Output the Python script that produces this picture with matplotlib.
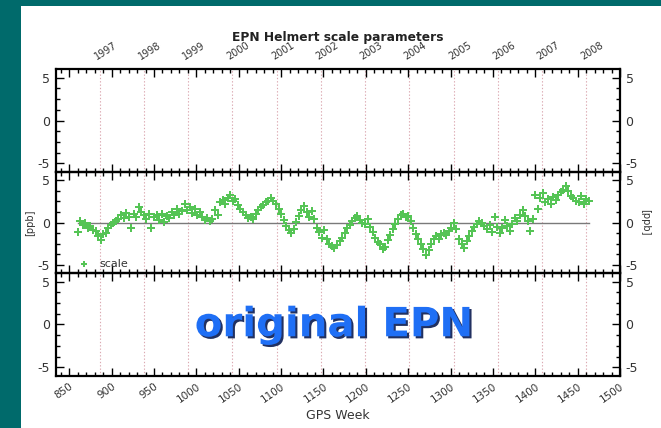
import matplotlib

matplotlib.use("Agg")
import matplotlib.pyplot as plt
import matplotlib.patheffects as pe
from matplotlib.patches import Rectangle
from matplotlib.ticker import MultipleLocator

# ---- data ----
year_labels = ["1997", "1998", "1999", "2000", "2001", "2002", "2003",
               "2004", "2005", "2006", "2007", "2008"]
year_weeks = [886, 938, 990, 1042, 1095, 1147, 1199, 1251, 1304, 1356, 1408, 1460]

weeks = [
    860, 863, 866, 869, 872, 875, 878, 881, 884, 887, 890, 893, 896, 899,
    902, 905, 908, 911, 914, 917, 920, 923, 926, 929, 932, 935, 938, 941,
    944, 947, 950, 953, 956, 959, 962, 965, 968, 971, 974, 977, 980, 983,
    986, 989, 992, 995, 998, 1001, 1004, 1007, 1010, 1013, 1016, 1019, 1022,
    1025, 1028, 1031, 1034, 1037, 1040, 1043, 1046, 1049, 1052, 1055, 1058,
    1061, 1064, 1067, 1070, 1073, 1076, 1079, 1082, 1085, 1088, 1091, 1094,
    1097, 1100, 1103, 1106, 1109, 1112, 1115, 1118, 1121, 1124, 1127, 1130,
    1133, 1136, 1139, 1142, 1145, 1148, 1151, 1154, 1157, 1160, 1163, 1166,
    1169, 1172, 1175, 1178, 1181, 1184, 1187, 1190, 1193, 1196, 1199, 1202,
    1205, 1208, 1211, 1214, 1217, 1220, 1223, 1226, 1229, 1232, 1235, 1238,
    1241, 1244, 1247, 1250, 1253, 1256, 1259, 1262, 1265, 1268, 1271, 1274,
    1277, 1280, 1283, 1286, 1289, 1292, 1295, 1298, 1301, 1304, 1307, 1310,
    1313, 1316, 1319, 1322, 1325, 1328, 1331, 1334, 1337, 1340, 1343, 1346,
    1349, 1352, 1355, 1358, 1361, 1364, 1367, 1370, 1373, 1376, 1379, 1382,
    1385, 1388, 1391, 1394, 1397, 1400, 1403, 1406, 1409, 1412, 1415, 1418,
    1421, 1424, 1427, 1430, 1433, 1436, 1439, 1442, 1445, 1448, 1451, 1454,
    1457, 1460, 1463,
]
scale = [
    -1.1, 0.2, -0.3, 0.0, -0.6, -0.4, -0.9, -1.0, -1.6, -2.1, -1.4, -1.2, -0.6, -0.3,
    -0.1, 0.2, 0.4, 0.9, 0.5, 1.1, 0.7, -0.6, 1.0, 0.6, 1.9, 1.3, 0.9, 0.4,
    1.0, -0.7, 0.6, 0.9, 0.3, 1.0, 0.1, 0.8, 0.5, 1.2, 0.9, 1.6, 1.0, 1.4,
    2.2, 1.5, 1.8, 1.1, 1.6, 0.9, 1.3, 0.7, 0.3, 0.5, 0.2, 0.4, 1.5,
    0.9, 2.4, 2.7, 2.2, 2.9, 3.3, 2.6, 2.8, 2.1, 1.6, 1.2, 0.9,
    0.5, 0.7, 0.4, 1.0, 1.5, 1.9, 2.1, 2.4, 2.6, 2.9, 2.5, 2.2,
    1.6, 1.0, 0.3, -0.4, -0.9, -1.3, -0.8, 0.1, 0.8, 1.5, 2.0, 1.2,
    0.7, 1.4, 0.4, -0.7, -1.1, -1.8, -0.9, -2.0, -2.5, -2.8, -3.0, -2.7,
    -2.2, -1.8, -1.3, -0.7, -0.3, 0.2, 0.5, 0.8, 0.3, 0.0, -0.2, 0.4,
    -0.5, -1.1, -1.8, -2.3, -2.6, -3.2, -2.9, -2.1, -1.5, -0.8, -0.2, 0.4,
    0.9, 1.0, 0.6, 0.8, 0.2, -0.7, -1.4, -2.0, -2.6, -3.1, -3.8, -3.3,
    -2.5, -2.0, -1.6, -1.9, -1.4, -1.2, -1.5, -1.0, -0.6, 0.0, -0.8, -2.0,
    -2.6, -3.0, -2.2, -1.6, -1.0, -0.5, -0.2, 0.2, 0.0, -0.4, -0.8, -0.3,
    -1.1, 0.6, -0.5, -1.2, -0.7, 0.3, -0.4, -1.0, -0.2, 0.5, 0.2, 0.9,
    1.5, 0.8, 0.2, -1.0, 0.4, 3.3, 1.6, 2.9, 3.5, 2.4, 2.8, 2.2,
    3.0, 2.7, 3.3, 3.6, 3.9, 4.3, 3.7, 3.2, 2.9, 2.6, 2.4, 3.1,
    2.2, 2.8, 2.5,
]

TEAL = "#006a6b"
GREEN = "#55c455"
TICK_COL = "#333333"

fig = plt.figure(figsize=(6.61, 4.28), dpi=100, facecolor=TEAL)
fig.patches.append(Rectangle((21 / 661, 0), 1 - 21 / 661, 1 - 6 / 428,
                             transform=fig.transFigure, facecolor="white",
                             edgecolor="none", zorder=-10))

left, width = 0.0843, 0.8537
rows = [(0.5981, 0.2407), (0.3621, 0.2360), (0.1215, 0.2407)]
axes = []
for i, (b, h) in enumerate(rows):
    ax = fig.add_axes([left, b, width, h])
    ax.set_xlim(834, 1500)
    ax.set_ylim(-6, 6)
    ax.set_facecolor("none")
    for s in ax.spines.values():
        s.set_linewidth(1.6)
    ax.xaxis.set_major_locator(MultipleLocator(50))
    ax.xaxis.set_minor_locator(MultipleLocator(10))
    ax.yaxis.set_major_locator(MultipleLocator(5))
    ax.yaxis.set_minor_locator(MultipleLocator(1.25))
    ax.tick_params(which="both", direction="in", top=True, bottom=True,
                   left=True, right=True, labelright=True, labelleft=True,
                   labelsize=9, labelcolor=TICK_COL, width=1.0, pad=4)
    ax.tick_params(which="major", length=6)
    ax.tick_params(which="minor", length=3)
    ax.set_yticks([-5, 0, 5])
    ax.set_yticklabels(["-5", "0", "5"])
    for w in year_weeks:
        ax.axvline(w, color="#dba9b1", linestyle=(0, (1.2, 1.8)), linewidth=0.8, zorder=0)
    if i < 2:
        ax.tick_params(labelbottom=False)
    axes.append(ax)

ax_top, ax_mid, ax_bot = axes

# top year labels
for lab, w in zip(year_labels, year_weeks):
    ax_top.annotate(lab, xy=(w, 6), xycoords="data", xytext=(-1, 5),
                    textcoords="offset points", rotation=32, ha="left",
                    va="bottom", fontsize=7, color=TICK_COL,
                    rotation_mode="anchor")
ax_top.set_title("EPN Helmert scale parameters", fontsize=8.8, fontweight="bold",
                 pad=20, color="#222222")

# middle panel: scale series
ax_mid.plot([weeks[0], weeks[-1]], [0, 0], color="#7a7a7a", linewidth=1.0, zorder=1)
ax_mid.plot(weeks, scale, linestyle="none", marker="P", markersize=6.2,
            color=GREEN, markeredgewidth=0, label="scale", zorder=2)
ax_mid.legend(loc="lower left", bbox_to_anchor=(0.025, -0.02), frameon=False,
              fontsize=8, handletextpad=0.7, markerscale=0.6, borderaxespad=0.1,
              handlelength=1.5, labelcolor=TICK_COL)
ax_mid.set_ylabel("[ppb]", fontsize=7, color=TICK_COL, labelpad=2)
ax_mid.text(1.045, 0.5, "[ppb]", transform=ax_mid.transAxes, rotation=270,
            ha="center", va="center", fontsize=7, color=TICK_COL)

# bottom panel x labels
ax_bot.set_xticks(range(850, 1501, 50))
for t in ax_bot.get_xticklabels():
    t.set_rotation(35)
    t.set_ha("right")
    t.set_rotation_mode("anchor")
    t.set_fontsize(7.5)
ax_bot.set_xlabel("GPS Week", fontsize=9, color="#333333", labelpad=3)

fig.text(0.505, 0.24, "original EPN", ha="center", va="center",
         fontsize=29, fontweight="bold", color="#1f6ff5",
         path_effects=[pe.withSimplePatchShadow(offset=(1.5, -1.5),
                                                shadow_rgbFace="#0a1a50",
                                                alpha=0.9)])

fig.savefig("out.png", dpi=100, facecolor=fig.get_facecolor())
